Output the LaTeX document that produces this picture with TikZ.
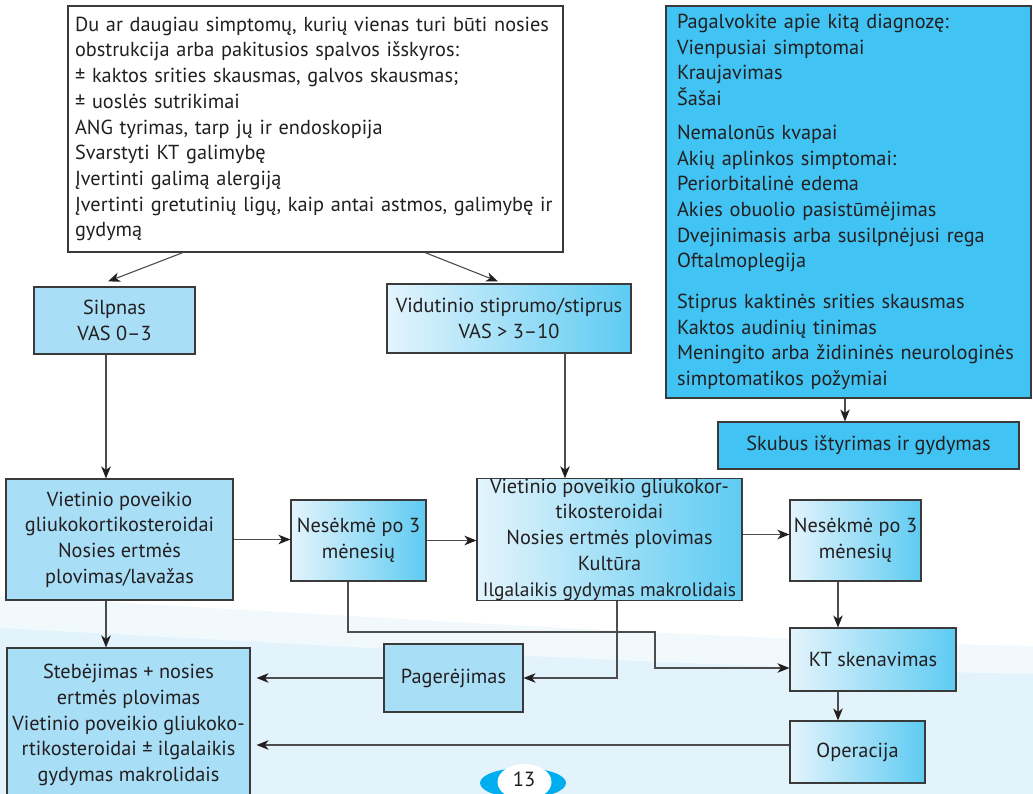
\documentclass[tikz,border=0pt]{standalone}
\usepackage{fontspec}
\setmainfont{PT Sans}
\usetikzlibrary{arrows.meta}

\definecolor{ink}{HTML}{231F20}
\definecolor{edge}{HTML}{3A3A3A}
\definecolor{wirec}{HTML}{4D4D4D}
\definecolor{paleblue}{HTML}{A9DEF7}
\definecolor{cyanbox}{HTML}{41C4F3}
\definecolor{gradL}{HTML}{E4F4FC}
\definecolor{gradR}{HTML}{5ECBF2}
\definecolor{bgA}{HTML}{F1F9FD}
\definecolor{bgB}{HTML}{E3F3FB}
\definecolor{pagecyan}{HTML}{00AEEF}

\newcommand{\tightline}[1]{{\fontsize{19.4}{25.7}\selectfont #1}}

\begin{document}
\begin{tikzpicture}[x=1pt,y=-1pt,
  every node/.style={font=\fontsize{20.3}{25.7}\selectfont, text=ink},
  box/.style={draw=edge, line width=1.1pt, inner sep=0pt, align=center},
  plainbox/.style={box, fill=paleblue},
  gradbox/.style={box, left color=gradL, right color=gradR},
  cyanfill/.style={box, fill=cyanbox},
  wire/.style={draw=wirec, line width=1.1pt},
  arr/.style={wire, -{Stealth[length=12pt,width=9.5pt,inset=3.5pt,color=ink]}},
]
\useasboundingbox (0,0) rectangle (1033,794);
\fill[white] (0,0) rectangle (1033,794);

% pale swoosh behind the lower part of the page
\fill[bgA] (0,596) .. controls (300,612) and (700,640) .. (1033,646)
  -- (1033,794) -- (0,794) -- cycle;
\fill[bgB] (0,628) .. controls (300,644) and (700,668) .. (1033,674)
  -- (1033,794) -- (0,794) -- cycle;

% ---------------- boxes ----------------
\node[box, fill=white, minimum width=495pt, minimum height=246pt,
      text width=481pt, align=left, inner xsep=7pt] (top) at (315.5,129)
{Du ar daugiau simptomų, kurių vienas turi būti nosies\\
obstrukcija arba pakitusios spalvos išskyros:\\
± kaktos srities skausmas, galvos skausmas;\\
± uoslės sutrikimai\\
ANG tyrimas, tarp jų ir endoskopija\\
Svarstyti KT galimybę\\
Įvertinti galimą alergiją\\
Įvertinti gretutinių ligų, kaip antai astmos, galimybę ir\\
gydymą};

\node[cyanfill, minimum width=365pt, minimum height=392pt,
      text width=343pt, align=left, inner xsep=11pt] (other) at (848.5,202)
{Pagalvokite apie kitą diagnozę:\\
Vienpusiai simptomai\\
Kraujavimas\\
Šašai\\[8pt]
Nemalonūs kvapai\\
Akių aplinkos simptomai:\\
Periorbitalinė edema\\
Akies obuolio pasistūmėjimas\\
Dvejinimasis arba susilpnėjusi rega\\
Oftalmoplegija\\[15pt]
Stiprus kaktinės srities skausmas\\
Kaktos audinių tinimas\\
Meningito arba židininės neurologinės\\
simptomatikos požymiai};

\node[cyanfill, minimum width=301pt, minimum height=47pt] (urgent) at (868.5,445.5)
{Skubus ištyrimas ir gydymas};

\node[plainbox, minimum width=161pt, minimum height=67pt] (mild) at (114.5,320.5)
{Silpnas\\VAS 0–3};

\node[gradbox, minimum width=244pt, minimum height=69pt] (severe) at (509,318.5)
{Vidutinio stiprumo/stiprus\\VAS > 3–10};

\node[plainbox, minimum width=227pt, minimum height=121pt] (localA) at (119.5,539.5)
{Vietinio poveikio\\gliukokortikosteroidai\\Nosies ertmės\\plovimas/lavažas};

\node[gradbox, minimum width=135pt, minimum height=81pt] (failA) at (358.5,540.5)
{Nesėkmė po 3\\mėnesių};

\node[gradbox, minimum width=265pt, minimum height=121pt] (localB) at (609.5,539.5)
{Vietinio poveikio gliukokor-\\tikosteroidai\\Nosies ertmės plovimas\\Kultūra\\\tightline{Ilgalaikis gydymas makrolidais}};

\node[gradbox, minimum width=131pt, minimum height=81pt] (failB) at (855.5,540.5)
{Nesėkmė po 3\\mėnesių};

\node[gradbox, minimum width=166pt, minimum height=63pt] (ct) at (873,659.5)
{KT skenavimas};

\node[gradbox, minimum width=135pt, minimum height=62pt] (surgery) at (857.5,752)
{Operacija};

\node[plainbox, minimum width=139pt, minimum height=68pt] (better) at (453.5,678)
{Pagerėjimas};

\node[plainbox, minimum width=243pt, minimum height=154pt] (watch) at (128.5,725)
{Stebėjimas + nosies\\ertmės plovimas\\Vietinio poveikio gliukoko-\\rtikosteroidai ± ilgalaikis\\gydymas makrolidais};

% ---------------- connectors ----------------
\draw[arr] ([xshift=-132.5pt]top.south) -- ([xshift=-6.5pt,yshift=5pt]mild.north);
\draw[arr] ([xshift=109.5pt]top.south) -- ([xshift=-11pt,yshift=2pt]severe.north);

\draw[arr] ([xshift=-8.5pt]mild.south) -- ([xshift=-8.5pt]mild.south |- localA.north);
\draw[arr] ([xshift=56pt]severe.south) -- ([xshift=56pt]severe.south |- localB.north);

\draw[arr] (localA.east) -- (localA.east -| failA.west);
\draw[arr] (failA.east) -- (failA.east -| localB.west);
\draw[arr] ([yshift=5pt]localB.east) -- ([yshift=5pt]localB.east -| failB.west);

\draw[arr] ([xshift=-17.5pt]failB.south) -- ([xshift=-17.5pt]failB.south |- ct.north);
\draw[arr] ([xshift=-35pt]ct.south) -- ([xshift=-35pt]ct.south |- surgery.north);
\draw[arr] ([xshift=-3.5pt]other.south) -- ([xshift=-3.5pt]other.south |- urgent.north);

\draw[arr] ([xshift=-13.5pt]localA.south) -- ([xshift=-13.5pt]localA.south |- watch.north);

\draw[arr, shorten >=6pt] (better.west) -- (better.west -| watch.east);
\draw[arr, shorten >=6pt] ([yshift=7pt]surgery.west) -- ([yshift=7pt]surgery.west -| watch.east);

\draw[arr] ([xshift=7.5pt]localB.south) |- (better.east);

\coordinate (jog) at (655,632);
\draw[arr] ([xshift=-10.5pt]failA.south) |- (jog) |- ([yshift=-8.5pt]ct.west);

% ---------------- page number ----------------
\fill[pagecyan] (523,783) ellipse [x radius=43pt, y radius=15pt];
\fill[white] (524.5,782) ellipse [x radius=27pt, y radius=18pt];
\node[font=\fontsize{20.5}{22}\selectfont] (pagenum) at (524,779) {13};
\end{tikzpicture}
\end{document}
